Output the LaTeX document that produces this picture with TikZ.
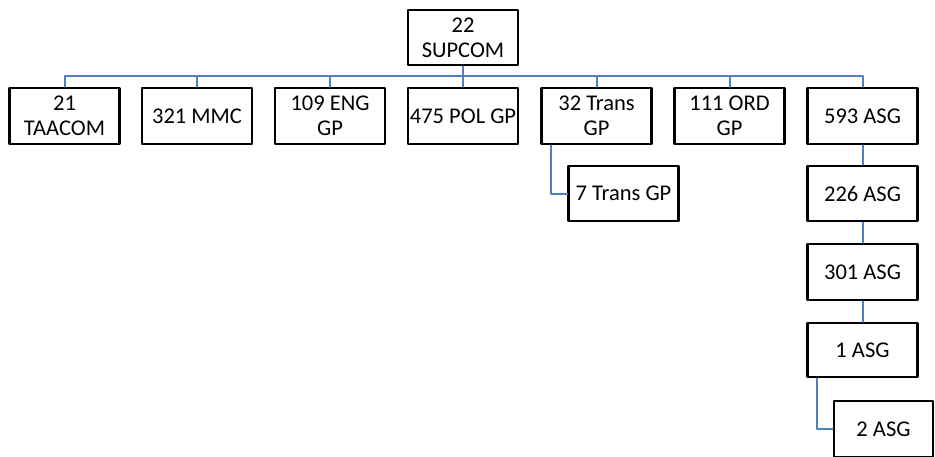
\documentclass[tikz,border=0pt]{standalone}
\usepackage{fontspec}
\setmainfont{Carlito}
\definecolor{linkblue}{RGB}{79,129,189}
\begin{document}
\begin{tikzpicture}[x=0.5pt,y=-0.5pt,line cap=round,line join=round,
  unit/.style={draw,line width=1.25pt,minimum width=55pt,minimum height=28pt,
    inner sep=1pt,align=center,font=\fontsize{11.25}{12.5}\selectfont},
  link/.style={draw=linkblue,line width=1pt}]
  \useasboundingbox (0,0) rectangle (935,456);
  \coordinate (bus) at (463,76);
  \node[unit,minimum height=27.5pt] (sup) at (463,37.5) {22\\SUPCOM};
  \node[unit] (taacom) at (64.5,116) {21\\TAACOM};
  \node[unit] (mmc) at (197,116) {321 MMC};
  \node[unit] (eng) at (330,116) {109 ENG\\GP};
  \node[unit] (pol) at (463,116) {475 POL GP};
  \node[unit] (tr32) at (596.5,116) {32 Trans\\GP};
  \node[unit] (ord) at (729.5,116) {111 ORD\\GP};
  \node[unit] (asg593) at (862.5,116) {593 ASG};
  \node[unit,minimum height=27.5pt] (tr7) at (623.5,193.5) {7 Trans GP};
  \node[unit,minimum height=27.5pt] (asg226) at (862.5,193.5) {226 ASG};
  \node[unit] (asg301) at (862.5,272) {301 ASG};
  \node[unit,minimum height=27pt] (asg1) at (862.5,350) {1 ASG};
  \node[unit,minimum width=49.5pt,minimum height=28pt] (asg2) at (883.5,429) {2 ASG};
  % connectors
  \draw[link] (sup) -- (bus);
  \foreach \u in {taacom,mmc,eng,pol,tr32,ord,asg593}
    \draw[link] (bus) -| (\u.north);
  \draw[link] ([xshift=5.5pt]tr32.south west) |- (tr7.west);
  \draw[link] (asg593) -- (asg226);
  \draw[link] (asg226) -- (asg301);
  \draw[link] (asg301) -- (asg1);
  \draw[link] ([xshift=5.5pt]asg1.south west) |- (asg2.west);
\end{tikzpicture}
\end{document}
